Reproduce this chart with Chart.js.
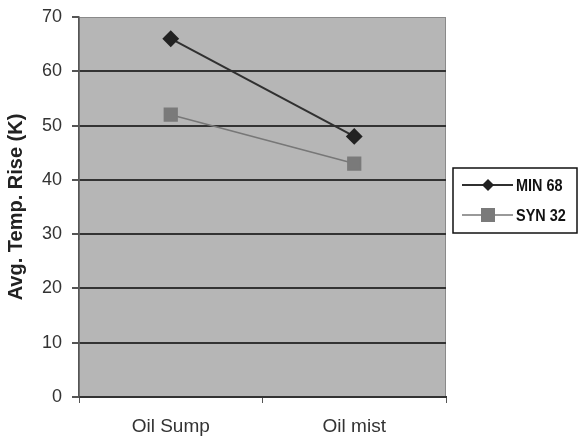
<!DOCTYPE html>
<html>
<head>
<meta charset="utf-8">
<script src="https://cdn.jsdelivr.net/npm/chart.js@4"></script>
<style>
  html, body { margin: 0; padding: 0; background: #fff; }
  #wrap { position: relative; width: 580px; height: 438px; }
</style>
</head>
<body>
<div id="wrap"><canvas id="tempChart" width="580" height="438"></canvas></div>
<script>
// chart values
const categories = ['Oil Sump', 'Oil mist'];
const seriesNames = ['MIN 68', 'SYN 32'];
const min68 = [66, 48];
const syn32 = [52, 43];
const yTicks = [0, 10, 20, 30, 40, 50, 60, 70];

// grey plot background + frame
const plotBackground = {
    id: 'plotBackground',
    beforeDraw(chart) {
        const { ctx, chartArea: a } = chart;
        ctx.save();
        ctx.fillStyle = '#b6b6b6';
        ctx.fillRect(a.left, a.top, a.right - a.left, a.bottom - a.top);
        ctx.strokeStyle = '#8a8a8a';
        ctx.lineWidth = 1;
        ctx.strokeRect(a.left + 0.5, a.top + 0.5, a.right - a.left - 1, a.bottom - a.top);
        ctx.restore();
    }
};

// boxed legend on the right, like the original
const boxLegend = {
    id: 'boxLegend',
    afterDraw(chart) {
        const { ctx } = chart;
        const x = 453, y = 168, w = 124, h = 65;
        ctx.save();
        ctx.fillStyle = '#fff';
        ctx.fillRect(x, y, w, h);
        ctx.strokeStyle = '#111';
        ctx.lineWidth = 1.5;
        ctx.strokeRect(x, y, w, h);
        chart.data.datasets.forEach((ds, i) => {
            const ry = y + 17 + i * 30;
            ctx.strokeStyle = ds.borderColor;
            ctx.lineWidth = ds.borderWidth;
            ctx.beginPath();
            ctx.moveTo(x + 9, ry);
            ctx.lineTo(x + 60, ry);
            ctx.stroke();
            ctx.fillStyle = ds.pointBackgroundColor;
            const cx = x + 35;
            if (ds.pointStyle === 'rectRot') {
                ctx.beginPath();
                ctx.moveTo(cx, ry - 6);
                ctx.lineTo(cx + 6, ry);
                ctx.lineTo(cx, ry + 6);
                ctx.lineTo(cx - 6, ry);
                ctx.closePath();
                ctx.fill();
            } else {
                ctx.fillRect(cx - 7, ry - 7, 14, 14);
            }
            ctx.save();
            ctx.translate(x + 63, ry + 1);
            ctx.scale(0.85, 1);
            ctx.fillStyle = '#111';
            ctx.font = 'bold 17px "Liberation Sans", Arial, sans-serif';
            ctx.textBaseline = 'middle';
            ctx.fillText(ds.label, 0, 0);
            ctx.restore();
        });
        ctx.restore();
    }
};

const ctx = document.getElementById('tempChart');

new Chart(ctx, {
    type: 'line',
    data: {
        labels: categories,
        datasets: [
            {
                label: seriesNames[0],
                data: min68,
                borderColor: '#303030',
                borderWidth: 2,
                pointStyle: 'rectRot',
                pointRadius: 7,
                pointBackgroundColor: '#222222',
                pointBorderColor: '#222222',
                tension: 0
            },
            {
                label: seriesNames[1],
                data: syn32,
                borderColor: '#777777',
                borderWidth: 1.5,
                pointStyle: 'rect',
                pointRadius: 9,
                pointBackgroundColor: '#7a7a7a',
                pointBorderColor: '#7a7a7a',
                tension: 0
            }
        ]
    },
    options: {
        responsive: false,
        animation: false,
        layout: { padding: { top: 17, right: 134, left: 0, bottom: 0 } },
        plugins: {
            legend: { display: false },
            tooltip: { enabled: false }
        },
        scales: {
            x: {
                offset: true,
                grid: {
                    offset: true,
                    drawOnChartArea: false,
                    tickLength: 6,
                    tickColor: '#555'
                },
                border: { color: '#333', width: 2 },
                ticks: {
                    color: '#333',
                    padding: 12,
                    font: { family: '"Liberation Sans", Arial, sans-serif', size: 19 }
                },
                afterFit(s) { s.height = 41; }
            },
            y: {
                min: 0,
                max: 70,
                afterBuildTicks(s) { s.ticks = yTicks.map(v => ({ value: v })); },
                grid: {
                    color: c => (c.tick && (c.tick.value === 0 || c.tick.value === 70)) ? 'rgba(0,0,0,0)' : '#333',
                    lineWidth: 2,
                    tickLength: 7,
                    tickColor: '#555',
                    drawTicks: true
                },
                border: { color: '#555', width: 1.5 },
                ticks: {
                    color: '#333',
                    padding: 10,
                    font: { family: '"Liberation Sans", Arial, sans-serif', size: 18 }
                },
                title: {
                    display: true,
                    text: 'Avg. Temp. Rise (K)',
                    color: '#222',
                    padding: { top: 4, bottom: 0 },
                    font: { family: '"Liberation Sans", Arial, sans-serif', size: 20, weight: 'bold' }
                },
                afterFit(s) { s.width = 79; s.paddingTop = 0; s.paddingBottom = 0; }
            }
        }
    },
    plugins: [plotBackground, boxLegend]
});
</script>
</body>
</html>
